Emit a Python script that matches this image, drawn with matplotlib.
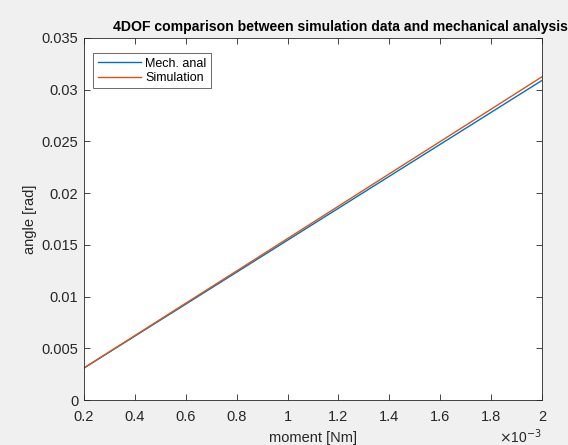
import matplotlib.pyplot as plt
import numpy as np

plt.rcParams['font.family'] = ['Liberation Sans', 'DejaVu Sans']

# moment [Nm], in units of 1e-3
moment = [0.2, 0.4, 0.6, 0.8, 1.0, 1.2, 1.4, 1.6, 1.8, 2.0]
# angle [rad]
mech_anal = [0.00309, 0.00618, 0.00927, 0.01236, 0.01545,
             0.01854, 0.02163, 0.02472, 0.02781, 0.03090]
simulation = [0.00310, 0.00623, 0.00936, 0.01248, 0.01561,
              0.01874, 0.02187, 0.02499, 0.02812, 0.03125]

xticks = [0.2, 0.4, 0.6, 0.8, 1.0, 1.2, 1.4, 1.6, 1.8, 2.0]
xticklabels = ['0.2', '0.4', '0.6', '0.8', '1', '1.2', '1.4', '1.6', '1.8', '2']
yticks = [0, 0.005, 0.01, 0.015, 0.02, 0.025, 0.03, 0.035]
yticklabels = ['0', '0.005', '0.01', '0.015', '0.02', '0.025', '0.03', '0.035']

dark = '#262626'

fig = plt.figure(figsize=(5.68, 4.45), dpi=100, facecolor='#f0f0f0')
ax = fig.add_axes([84/568, 45/445, 458/568, 362/445])
ax.set_facecolor('white')

ax.plot(moment, mech_anal, color='#0072BD', lw=1.0, label='Mech. anal')
ax.plot(moment, simulation, color='#D95319', lw=1.0, label='Simulation')

ax.set_xlim(0.2, 2.0)
ax.set_ylim(0, 0.035)
ax.set_xticks(xticks)
ax.set_xticklabels(xticklabels)
ax.set_yticks(yticks)
ax.set_yticklabels(yticklabels)

ax.tick_params(direction='in', length=4, width=0.6, colors=dark,
               labelsize=10.5, top=True, right=True)
ax.tick_params(axis='x', pad=7)
ax.tick_params(axis='y', pad=4)
for s in ax.spines.values():
    s.set_color(dark)
    s.set_linewidth(0.6)

ax.set_xlabel('moment [Nm]', fontsize=10.5, color=dark, labelpad=5)
ax.set_ylabel('angle [rad]', fontsize=10.5, color=dark, labelpad=3)
fig.text(520/568, 8/445, r'$\times$10$^{-3}$', fontsize=10, color=dark,
         ha='center', va='center')

fig.text(340/568, 418/445, '4DOF comparison between simulation data and mechanical analysis',
         fontsize=10.1, fontweight='bold', color='black', ha='center', va='center')

leg = ax.legend(loc='upper left', fontsize=9, frameon=True, fancybox=False,
                edgecolor=dark, borderpad=0.35, handlelength=3.5,
                handletextpad=0.3, labelspacing=0.2, borderaxespad=0,
                bbox_to_anchor=(0.02, 0.958))
leg.get_frame().set_linewidth(0.6)

fig.savefig('out.png', dpi=100, facecolor=fig.get_facecolor())
